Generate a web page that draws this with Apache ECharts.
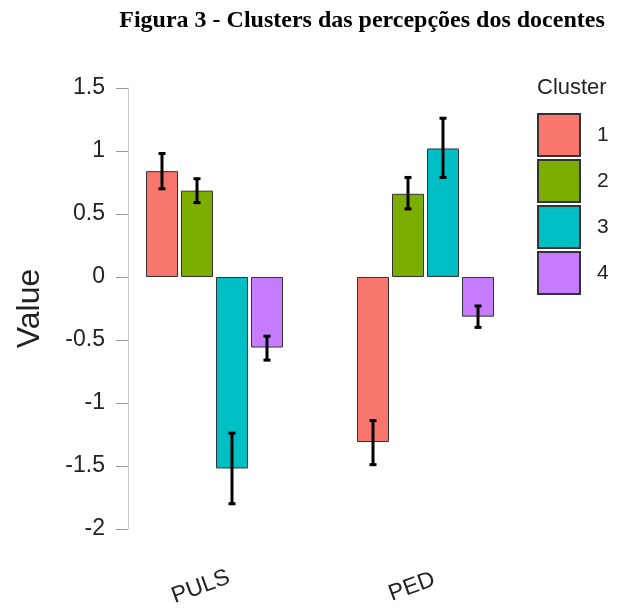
<!DOCTYPE html>
<html>
<head>
<meta charset="utf-8">
<script src="https://cdn.jsdelivr.net/npm/echarts@6/dist/echarts.min.js"></script>
<style>html,body{margin:0;padding:0;background:#fff}#c{width:620px;height:609px}</style>
</head>
<body>
<div id="c"></div>
<script>
const categories = ['PULS', 'PED'];
const clusters = ['1', '2', '3', '4'];
const colors = ['#F8766D', '#7CAE00', '#00BFC4', '#C77CFF'];
const values1 = [0.84, -1.31];
const values2 = [0.685, 0.66];
const values3 = [-1.52, 1.02];
const values4 = [-0.56, -0.315];
const errLow1 = [0.70, -1.49];
const errHigh1 = [0.98, -1.14];
const errLow2 = [0.59, 0.54];
const errHigh2 = [0.78, 0.79];
const errLow3 = [-1.80, 0.79];
const errHigh3 = [-1.24, 1.26];
const errLow4 = [-0.66, -0.40];
const errHigh4 = [-0.47, -0.23];
const yTicks = [-2, -1.5, -1, -0.5, 0, 0.5, 1, 1.5];

const values = [values1, values2, values3, values4];
const lows = [errLow1, errLow2, errLow3, errLow4];
const highs = [errHigh1, errHigh2, errHigh3, errHigh4];

const BAR_W = 32, BAR_GAP = 3;
const chart = echarts.init(document.getElementById('c'));
const series = [];
clusters.forEach((c, i) => {
  series.push({
    name: c, type: 'bar', barWidth: BAR_W, barGap: (BAR_GAP / BAR_W * 100) + '%',
    itemStyle: { color: colors[i], borderColor: '#333', borderWidth: 1 },
    data: values[i], z: 2
  });
});
clusters.forEach((c, i) => {
  const off = (i - 1.5) * (BAR_W + BAR_GAP);
  series.push({
    type: 'custom', z: 5, silent: true,
    data: categories.map((k, j) => [j, lows[i][j], highs[i][j]]),
    renderItem: function (params, api) {
      const lo = api.coord([api.value(0), api.value(1)]);
      const hi = api.coord([api.value(0), api.value(2)]);
      const x = lo[0] + off;
      const cap = 3.5;
      const st = { stroke: '#000', lineWidth: 3 };
      return { type: 'group', children: [
        { type: 'line', shape: { x1: x, y1: lo[1], x2: x, y2: hi[1] }, style: st },
        { type: 'line', shape: { x1: x - cap, y1: lo[1], x2: x + cap, y2: lo[1] }, style: st },
        { type: 'line', shape: { x1: x - cap, y1: hi[1], x2: x + cap, y2: hi[1] }, style: st }
      ]};
    }
  });
});

chart.setOption({
  animation: false,
  title: [
    { text: 'Figura 3 - Clusters das percepções dos docentes', left: 362, textAlign: 'center', top: 9, padding: 0,
      textStyle: { fontFamily: 'Liberation Serif', fontWeight: 'bold', fontSize: 24, color: '#000' } },
    { text: 'Cluster', left: 537, top: 77, padding: 0,
      textStyle: { fontFamily: 'Liberation Sans', fontWeight: 'normal', fontSize: 22, color: '#222' } }
  ],
  legend: {
    data: clusters, orient: 'vertical', left: 537, top: 113, padding: 0, itemWidth: 42, itemHeight: 42, itemGap: 2,
    icon: 'rect', selectedMode: false,
    textStyle: { fontFamily: 'Liberation Sans', fontSize: 21, color: '#222', padding: [0, 0, 0, 12] }
  },
  grid: { left: 109, right: 89, top: 88, bottom: 77 },
  xAxis: {
    type: 'category', data: categories,
    axisLine: { show: false }, axisTick: { show: false },
    axisLabel: { rotate: 20, align: 'center', verticalAlign: 'middle', margin: 53, padding: [0, 29, 0, 0],
      fontFamily: 'Liberation Sans', fontSize: 23, color: '#222' }
  },
  yAxis: {
    type: 'value', min: -2, max: 1.5, interval: 0.5, offset: -19,
    name: 'Value', nameLocation: 'middle', nameGap: 82,
    nameTextStyle: { fontFamily: 'Liberation Sans', fontSize: 32, color: '#222' },
    axisLine: { show: true, lineStyle: { color: '#c8c8c8', width: 1 } },
    axisTick: { show: true, length: 12, lineStyle: { color: '#999', width: 1 } },
    splitLine: { show: false },
    axisLabel: { margin: 23, fontFamily: 'Liberation Sans', fontSize: 23, color: '#222',
      formatter: v => String(yTicks.find(t => Math.abs(t - v) < 1e-9) ?? v) }
  },
  series: series
});
</script>
</body>
</html>
